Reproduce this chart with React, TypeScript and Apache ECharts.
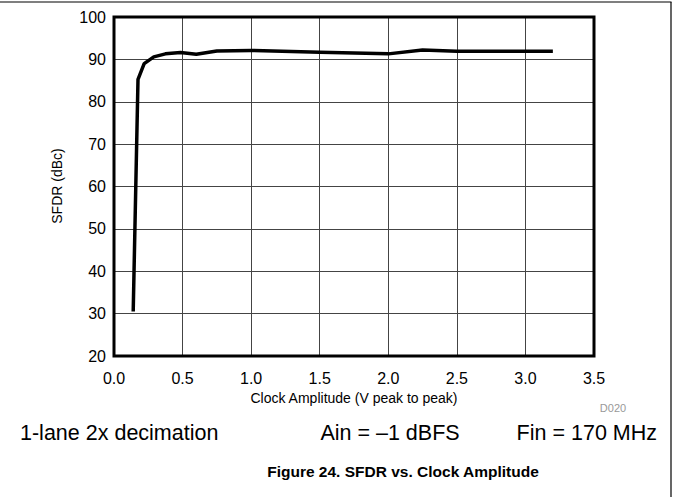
import React, { useEffect, useRef } from "react";
import * as echarts from "echarts";

const xValues = [0.14, 0.175, 0.22, 0.29, 0.375, 0.485, 0.6, 0.75, 1.0, 1.5, 2.0, 2.25, 2.5, 3.0, 3.2];
const sfdrValues = [30.5, 85.3, 89.0, 90.6, 91.3, 91.6, 91.2, 92.0, 92.1, 91.7, 91.3, 92.2, 91.9, 91.9, 91.9];
const xTicks = [0, 0.5, 1.0, 1.5, 2.0, 2.5, 3.0, 3.5];
const yTicks = [20, 30, 40, 50, 60, 70, 80, 90, 100];
const notes = ["1-lane 2x decimation", "Ain = \u20131 dBFS", "Fin = 170 MHz"];
const yTitle = "SFDR (dBc)";
const xTitle = "Clock Amplitude (V peak to peak)";
const figTitle = "Figure 24. SFDR vs. Clock Amplitude";
const docId = "D020";

const FONT = '"Liberation Sans", Arial, Helvetica, sans-serif';

export default function App() {
  const ref = useRef<HTMLDivElement>(null);
  useEffect(() => {
    if (!ref.current) return;
    const chart = echarts.init(ref.current, null, { renderer: "svg" });
    const data = xValues.map((x, i) => [x, sfdrValues[i]]);
    chart.setOption({
      animation: false,
      backgroundColor: "#ffffff",
      textStyle: { fontFamily: FONT },
      grid: { left: 114, top: 17, right: 82, bottom: 141, containLabel: false },
      xAxis: {
        type: "value",
        min: xTicks[0],
        max: xTicks[xTicks.length - 1],
        interval: 0.5,
        axisLine: { show: false },
        axisTick: { show: false },
        axisLabel: {
          margin: 14,
          fontSize: 16,
          color: "#000",
          fontFamily: FONT,
          formatter: (v: number) => v.toFixed(1),
        },
        splitLine: { show: true, lineStyle: { color: "#444", width: 1 } },
      },
      yAxis: {
        type: "value",
        min: yTicks[0],
        max: yTicks[yTicks.length - 1],
        interval: 10,
        axisLine: { show: false },
        axisTick: { show: false },
        axisLabel: { margin: 8, fontSize: 16, color: "#000", fontFamily: FONT },
        splitLine: { show: true, lineStyle: { color: "#444", width: 1 } },
      },
      series: [
        {
          type: "line",
          data,
          showSymbol: false,
          symbol: "none",
          lineStyle: { color: "#000", width: 3.5 },
          z: 5,
        },
      ],
      graphic: [
        { type: "rect", shape: { x: 114, y: 17, width: 480, height: 339 }, style: { fill: "none", stroke: "#000", lineWidth: 3 }, z: 10 },
        { type: "line", shape: { x1: 0, y1: 2, x2: 671.5, y2: 2 }, style: { stroke: "#000", lineWidth: 1.2 } },
        { type: "line", shape: { x1: 671, y1: 2, x2: 671, y2: 497 }, style: { stroke: "#000", lineWidth: 1.2 } },
        { type: "text", x: 57, y: 186, rotation: Math.PI / 2, style: { text: yTitle, font: `14px ${FONT}`, fill: "#000", align: "center", verticalAlign: "middle" } },
        { type: "text", x: 354, y: 398, style: { text: xTitle, font: `14px ${FONT}`, fill: "#000", align: "center", verticalAlign: "middle" } },
        { type: "text", x: 613, y: 408, style: { text: docId, font: `11px ${FONT}`, fill: "#999", align: "center", verticalAlign: "middle" } },
        { type: "text", x: 20, y: 433, style: { text: notes[0], font: `21.5px ${FONT}`, fill: "#000", align: "left", verticalAlign: "middle" } },
        { type: "text", x: 390, y: 433, style: { text: notes[1], font: `21.5px ${FONT}`, fill: "#000", align: "center", verticalAlign: "middle" } },
        { type: "text", x: 657, y: 433, style: { text: notes[2], font: `21.5px ${FONT}`, fill: "#000", align: "right", verticalAlign: "middle" } },
        { type: "text", x: 403, y: 471, style: { text: figTitle, font: `bold 15.5px ${FONT}`, fill: "#000", align: "center", verticalAlign: "middle" } },
      ],
    });
    return () => chart.dispose();
  }, []);
  return (
    <div
      ref={ref}
      style={{ position: "fixed", left: 0, top: 0, width: 676, height: 497, background: "#fff" }}
    />
  );
}
